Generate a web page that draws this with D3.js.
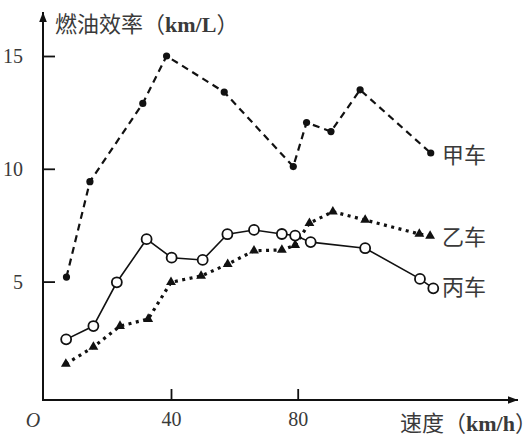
<!DOCTYPE html>
<html><head><meta charset="utf-8">
<script src="https://cdn.jsdelivr.net/npm/d3@7"></script>
<style>
html,body{margin:0;padding:0;background:#fff;}
svg{display:block;}
.halt{font-feature-settings:"halt" 1;}
</style>
</head><body>
<svg id="chart" width="531" height="439"></svg>
<script>
// ---- data ----
const speedA = [7, 14.4, 31.1, 38.6, 56.8, 78.6, 82.8, 90.5, 99.7, 122];
const effA   = [5.2, 9.43, 12.9, 15.0, 13.4, 10.1, 12.05, 11.65, 13.5, 10.7];
const speedB = [6.8, 15.5, 23.9, 32.8, 40, 49.5, 57.9, 66.2, 75, 79.2, 83.7, 91.1, 101.3, 118.4, 121.8];
const effB   = [1.35, 2.1, 3.03, 3.34, 4.97, 5.25, 5.77, 6.37, 6.4, 6.62, 7.59, 8.1, 7.73, 7.11, 7.02];
const speedC = [6.9, 15.5, 22.9, 32.3, 40.2, 50, 57.8, 66.2, 75, 79.2, 84.1, 101.3, 118.6, 122.8];
const effC   = [2.44, 3.03, 4.97, 6.88, 6.06, 5.96, 7.1, 7.29, 7.11, 7.04, 6.75, 6.48, 5.12, 4.7];
const xTicks = [40, 80];
const yTicks = [5, 10, 15];
const seriesNames = ["甲车", "乙车", "丙车"];
const yTitle = "燃油效率";
const yUnit = "km/L";
const xTitle = "速度";
const xUnit = "km/h";

const svg = d3.select("#chart");
const x = d3.scaleLinear().domain([0, 40]).range([44.3, 171]);
const y = d3.scaleLinear().domain([0, 15]).range([394.4, 56]);
const axisX0 = 43, axisY0 = 400;
const ink = "#111", txt = "#3a3a3a";
const serif = "'Liberation Serif','Times New Roman',serif";
const cjk = "'Noto Sans CJK SC',sans-serif";

// arrow marker
const defs = svg.append("defs");
defs.append("marker").attr("id","arr").attr("viewBox","0 0 10 10")
  .attr("refX",10).attr("refY",5).attr("markerWidth",10).attr("markerHeight",10)
  .attr("markerUnits","userSpaceOnUse").attr("orient","auto")
  .append("path").attr("d","M0,1.2 L10,5 L0,8.8 Z").attr("fill",ink);

// axis lines
svg.append("line").attr("x1",axisX0).attr("y1",axisY0).attr("x2",518).attr("y2",axisY0)
  .attr("stroke",ink).attr("stroke-width",2).attr("marker-end","url(#arr)");
svg.append("line").attr("x1",axisX0).attr("y1",axisY0+1).attr("x2",axisX0).attr("y2",12)
  .attr("stroke",ink).attr("stroke-width",2).attr("marker-end","url(#arr)");

// x axis ticks (inward)
const gx = svg.append("g").attr("transform",`translate(0,${axisY0})`)
  .call(d3.axisBottom(x).tickValues(xTicks).tickSizeInner(-11).tickSizeOuter(0).tickPadding(22));
gx.select(".domain").remove();
gx.selectAll(".tick line").attr("stroke",ink).attr("stroke-width",1.8);
gx.selectAll(".tick text").attr("font-family",serif).attr("font-size",20).attr("fill",txt)
  .attr("dy","0.32em").attr("y",20);

// y axis ticks (inward)
const gy = svg.append("g").attr("transform",`translate(${axisX0},0)`)
  .call(d3.axisLeft(y).tickValues(yTicks).tickSizeInner(-12).tickSizeOuter(0).tickPadding(20));
gy.select(".domain").remove();
gy.selectAll(".tick line").attr("stroke",ink).attr("stroke-width",1.8);
gy.selectAll(".tick text").attr("font-family",serif).attr("font-size",20).attr("fill",txt);

// origin label
svg.append("text").attr("x",33).attr("y",420).attr("dy","0.35em").attr("text-anchor","middle")
  .attr("font-family",serif).attr("font-style","italic").attr("font-size",20).attr("fill",txt).text("O");

// axis titles
function title(xp, yp, main, unit){
  const t = svg.append("text").attr("x",xp).attr("y",yp).attr("dy","0.36em")
    .attr("font-family",cjk).attr("font-size",22).attr("fill",txt);
  t.append("tspan").text(main + "（");
  t.append("tspan").attr("font-family",serif).attr("font-weight","bold").attr("font-size",22).text(unit);
  t.append("tspan").attr("class","halt").text("）");
}
title(55, 24, yTitle, yUnit);
title(400, 423, xTitle, xUnit);

const mk = (xs, ys) => xs.map((s,i)=>({s, v: ys[i]}));
const dA = mk(speedA, effA), dB = mk(speedB, effB), dC = mk(speedC, effC);
const line = d3.line().x(d=>x(d.s)).y(d=>y(d.v));

// 甲车 dashed
svg.append("path").datum(dA).attr("d",line).attr("fill","none").attr("stroke",ink)
  .attr("stroke-width",2.2).attr("stroke-dasharray","7,5");
svg.selectAll("circle.a").data(dA).join("circle").attr("class","a")
  .attr("cx",d=>x(d.s)).attr("cy",d=>y(d.v)).attr("r",3.6).attr("fill",ink);

// 乙车 dotted
svg.append("path").datum(dB).attr("d",line).attr("fill","none").attr("stroke",ink)
  .attr("stroke-width",3.2).attr("stroke-dasharray","3,4.5");
svg.selectAll("path.b").data(dB).join("path").attr("class","b")
  .attr("transform",d=>`translate(${x(d.s)},${y(d.v)})`)
  .attr("d",d3.symbol().type(d3.symbolTriangle).size(42)).attr("fill",ink);

// 丙车 solid
svg.append("path").datum(dC).attr("d",line).attr("fill","none").attr("stroke",ink)
  .attr("stroke-width",1.6);
svg.selectAll("circle.c").data(dC).join("circle").attr("class","c")
  .attr("cx",d=>x(d.s)).attr("cy",d=>y(d.v)).attr("r",5).attr("fill","#fff")
  .attr("stroke",ink).attr("stroke-width",1.8);

// series labels
const labelY = [155, 237, 287];
seriesNames.forEach((n,i)=>{
  svg.append("text").attr("x",442).attr("y",labelY[i]).attr("dy","0.36em")
    .attr("font-family",cjk).attr("font-size",22).attr("fill",txt).text(n);
});
</script>
</body></html>
